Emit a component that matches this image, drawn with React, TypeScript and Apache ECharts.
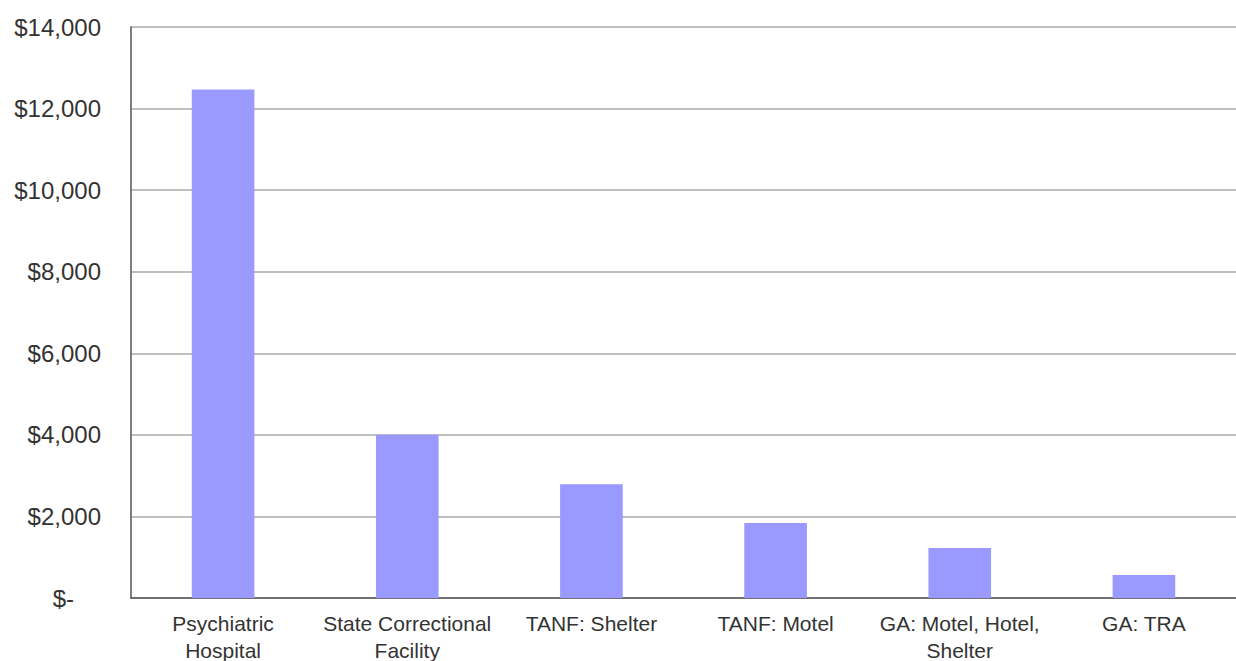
import React, { useEffect, useRef } from "react";
import * as echarts from "echarts";

const categories = [
  "Psychiatric\nHospital",
  "State Correctional\nFacility",
  "TANF: Shelter",
  "TANF: Motel",
  "GA: Motel, Hotel,\nShelter",
  "GA: TRA",
];
const costs = [12470, 4000, 2790, 1840, 1225, 565];
const yMin = 0;
const yMax = 14000;
const yStep = 2000;

function fmt(v: number): string {
  if (v === 0) return "{z|$-}";
  return "$" + v.toLocaleString("en-US");
}

export default function App() {
  const ref = useRef<HTMLDivElement>(null);
  useEffect(() => {
    if (!ref.current) return;
    const chart = echarts.init(ref.current, null, { renderer: "svg" });
    chart.setOption({
      animation: false,
      backgroundColor: "#ffffff",
      textStyle: { fontFamily: "Liberation Sans, Arial, sans-serif" },
      grid: {
        left: 131,
        right: 0,
        top: 27,
        bottom: 63,
        containLabel: false,
        outerBoundsMode: "none",
      },
      xAxis: {
        type: "category",
        data: categories,
        axisLine: { show: true, lineStyle: { color: "#555555", width: 1.5 } },
        axisTick: { show: false },
        axisLabel: {
          color: "#333333",
          fontSize: 21,
          lineHeight: 27,
          margin: 12,
          interval: 0,
          fontFamily: "Liberation Sans, Arial, sans-serif",
        },
      },
      yAxis: {
        type: "value",
        min: yMin,
        max: yMax,
        interval: yStep,
        axisLine: { show: true, lineStyle: { color: "#555555", width: 1.5 } },
        axisTick: { show: false },
        splitLine: { show: true, lineStyle: { color: "#aaaaaa", width: 1.5 } },
        axisLabel: {
          color: "#333333",
          fontSize: 24,
          margin: 30,
          fontFamily: "Liberation Sans, Arial, sans-serif",
          formatter: fmt,
          rich: {
            z: {
              color: "#333333",
              fontSize: 24,
              fontFamily: "Liberation Sans, Arial, sans-serif",
              padding: [0, 27, 0, 0],
            },
          },
        },
      },
      series: [
        {
          type: "bar",
          data: costs,
          barWidth: "34%",
          itemStyle: { color: "#9999ff" },
        },
      ],
    });
    return () => chart.dispose();
  }, []);
  return (
    <div
      ref={ref}
      style={{ position: "fixed", left: 0, top: 0, width: 1236, height: 661 }}
    />
  );
}
